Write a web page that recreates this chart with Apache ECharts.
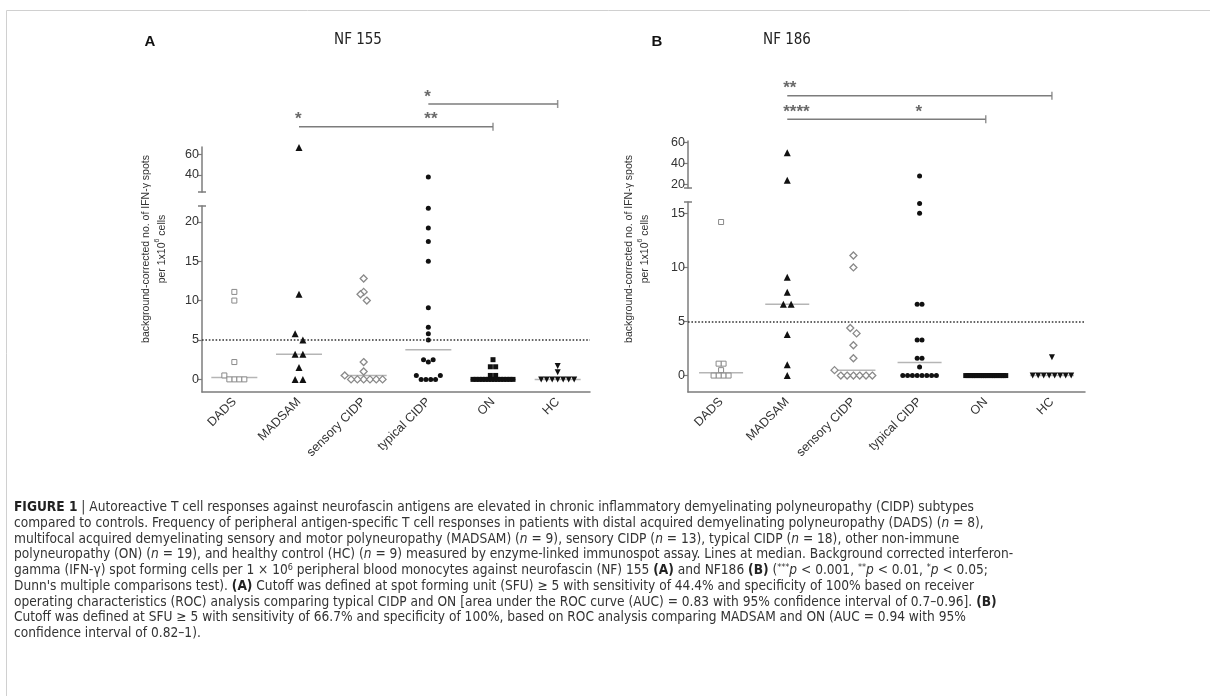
<!DOCTYPE html>
<html><head><meta charset="utf-8">
<script src="https://cdn.jsdelivr.net/npm/echarts@6/dist/echarts.min.js"></script>
<style>html,body{margin:0;padding:0;background:#fff}#c{width:1210px;height:696px}</style>
</head><body><div id="c"></div>
<script>
// ---------- data ----------
const categories = ['DADS', 'MADSAM', 'sensory CIDP', 'typical CIDP', 'ON', 'HC'];

// NF 155 (panel A)
const nf155DADS    = [11.1, 10.0, 2.2, 0.5, 0, 0, 0, 0];
const nf155MADSAM  = [67, 10.8, 5.8, 5.0, 3.2, 3.2, 1.5, 0, 0];
const nf155Sensory = [12.8, 11.1, 10.8, 10.0, 2.2, 1.0, 0.5, 0, 0, 0, 0, 0, 0];
const nf155Typical = [38, 21.7, 19.2, 17.5, 15.0, 9.1, 6.6, 5.8, 5.0, 2.5, 2.5, 2.2, 0.5, 0.5, 0, 0, 0, 0];
const nf155ON      = [2.5, 1.6, 1.6, 0.5, 0.5, 0, 0, 0, 0, 0, 0, 0, 0, 0, 0, 0, 0, 0, 0];
const nf155HC      = [1.7, 0.9, 0, 0, 0, 0, 0, 0, 0];

// NF 186 (panel B)
const nf186DADS    = [14.2, 1.1, 1.1, 0.5, 0, 0, 0, 0];
const nf186MADSAM  = [50, 24, 9.1, 7.7, 6.6, 6.6, 3.8, 1.0, 0];
const nf186Sensory = [11.1, 10.0, 4.4, 3.9, 2.8, 1.6, 0.5, 0, 0, 0, 0, 0, 0];
const nf186Typical = [28, 15.9, 15.0, 6.6, 6.6, 3.3, 3.3, 1.6, 1.6, 0.8, 0, 0, 0, 0, 0, 0, 0, 0];
const nf186ON      = [0, 0, 0, 0, 0, 0, 0, 0, 0, 0, 0, 0, 0, 0, 0, 0, 0, 0, 0];
const nf186HC      = [1.7, 0, 0, 0, 0, 0, 0, 0, 0];

const cutoff = 5;
const ticksALow = [0, 5, 10, 15, 20];
const ticksAUp  = [40, 60];
const ticksBLow = [0, 5, 10, 15];
const ticksBUp  = [20, 40, 60];

// significance brackets: [from, to, level]; stars: [category, level, text]
const bracketsA = [['typical CIDP', 'HC', 2], ['MADSAM', 'ON', 1]];
const starsA    = [['typical CIDP', 2, '*'], ['MADSAM', 1, '*'], ['typical CIDP', 1, '**']];
const bracketsB = [['MADSAM', 'HC', 2], ['MADSAM', 'ON', 1]];
const starsB    = [['MADSAM', 2, '**'], ['MADSAM', 1, '****'], ['typical CIDP', 1, '*']];

const panelData = [
  [nf155DADS, nf155MADSAM, nf155Sensory, nf155Typical, nf155ON, nf155HC],
  [nf186DADS, nf186MADSAM, nf186Sensory, nf186Typical, nf186ON, nf186HC]
];

// ---------- layout / style ----------
const AX = '#7c7c7c';
const panels = [
  { left: 202, width: 388,
    low: { top: 206, height: 186, min: -1.6, max: 22, ticks: ticksALow },
    up:  { top: 147, height: 45, min: 23.2, max: 67.5, ticks: ticksAUp },
    ann: { top: 81.3, height: 68.1 }, medW: 46, brackets: bracketsA, stars: starsA },
  { left: 688, width: 397,
    low: { top: 202, height: 190, min: -1.52, max: 16.05, ticks: ticksBLow },
    up:  { top: 141, height: 47, min: 16.6, max: 61, ticks: ticksBUp },
    ann: { top: 72.1, height: 70.8 }, medW: 44, brackets: bracketsB, stars: starsB }
];
const groupStyle = [
  { symbol: 'rect', size: 5, fill: '#fff', stroke: '#8a8a8a', bw: 1, sp: 5 },
  { symbol: 'triangle', size: 7, fill: '#111', sp: 7.7 },
  { symbol: 'diamond', size: 7, fill: '#fff', stroke: '#8a8a8a', bw: 1.3, sp: 6.3 },
  { symbol: 'circle', size: 5, fill: '#111', sp: 4.8 },
  { symbol: 'rect', size: 5, fill: '#111', sp: 5.3 },
  { symbol: 'triangle', size: 6, fill: '#111', rotate: 180, sp: 5.5 }
];
const MAXW = 40;
const FONT = "'Liberation Sans', Arial, sans-serif";
const NARROW = "'Liberation Sans Narrow', 'DejaVu Sans Condensed', 'Liberation Sans', sans-serif";

function median(a) {
  const s = a.slice().sort((x, y) => x - y), n = s.length;
  return n % 2 ? s[(n - 1) / 2] : (s[n / 2 - 1] + s[n / 2]) / 2;
}

const chart = echarts.init(document.getElementById('c'));

function buildOption(off, caps) {
  const grid = [], xAxis = [], yAxis = [], series = [];
  panels.forEach((P, p) => {
    const gi = p * 3;
    grid.push({ left: P.left, width: P.width, top: P.low.top, height: P.low.height });
    grid.push({ left: P.left, width: P.width, top: P.up.top, height: P.up.height });
    grid.push({ left: P.left, width: P.width, top: P.ann.top, height: P.ann.height });
    xAxis.push({ gridIndex: gi, type: 'category', data: categories,
      axisLine: { onZero: false, lineStyle: { color: AX, width: 1.5 } },
      axisTick: { alignWithLabel: true, length: 4, lineStyle: { color: AX, width: 1.2 } },
      axisLabel: { rotate: 45, interval: 0, fontSize: 12.5, color: '#333', margin: 8, fontFamily: FONT },
      splitLine: { show: false } });
    xAxis.push({ gridIndex: gi + 1, type: 'category', data: categories, show: false });
    xAxis.push({ gridIndex: gi + 2, type: 'category', data: categories, show: false });
    [P.low, P.up].forEach((S, si) => {
      yAxis.push({ gridIndex: gi + si, type: 'value', min: S.min, max: S.max,
        axisLine: { show: true, lineStyle: { color: AX, width: 1.5 } },
        axisTick: { show: true, length: 4, customValues: S.ticks, lineStyle: { color: AX, width: 1.2 } },
        axisLabel: { customValues: S.ticks, fontSize: 12.5, color: '#333', margin: 3, fontFamily: FONT },
        splitLine: { show: false } });
    });
    yAxis.push({ gridIndex: gi + 2, type: 'value', min: 0, max: 3, show: false });

    panelData[p].forEach((vals, g) => {
      const st = groupStyle[g];
      [0, 1].forEach(si => {
        const items = vals.map((v, i) => ({ v, i })).filter(o => si === 0 ? o.v <= P.low.max : o.v > P.low.max);
        if (!items.length) return;
        series.push({ type: 'scatter', xAxisIndex: gi + si, yAxisIndex: gi + si, silent: true, z: 3,
          symbol: st.symbol, symbolSize: st.size, symbolRotate: st.rotate || 0,
          itemStyle: { color: st.fill, borderColor: st.stroke || st.fill, borderWidth: st.bw || 0, opacity: 1 },
          data: items.map(o => ({ value: [categories[g], o.v], symbolOffset: [off ? off[p][g][o.i] : 0, 0] })) });
      });
    });
    // median lines + cutoff
    series.push({ type: 'scatter', xAxisIndex: gi, yAxisIndex: gi, silent: true, z: 2,
      symbol: 'rect', symbolSize: [P.medW, 1.5], itemStyle: { color: '#a3a3a3' },
      data: panelData[p].map((vals, g) => [categories[g], median(vals)]),
      markLine: { silent: true, symbol: ['none', 'none'], label: { show: false },
        lineStyle: { type: [1.6, 1.8], color: '#333', width: 1.6 }, data: [{ yAxis: cutoff }] } });
    // brackets
    P.brackets.forEach(b => {
      series.push({ type: 'line', xAxisIndex: gi + 2, yAxisIndex: gi + 2, silent: true, symbol: 'none',
        lineStyle: { color: AX, width: 1.5 }, data: [[b[0], b[2]], [b[1], b[2]]] });
      series.push({ type: 'scatter', xAxisIndex: gi + 2, yAxisIndex: gi + 2, silent: true,
        symbol: 'rect', symbolSize: [1.5, 8], itemStyle: { color: AX }, data: [[b[1], b[2]]] });
    });
    series.push({ type: 'scatter', xAxisIndex: gi + 2, yAxisIndex: gi + 2, silent: true,
      symbolSize: 1, itemStyle: { color: 'rgba(0,0,0,0)' },
      label: { show: true, position: 'top', distance: 0, align: 'left', offset: [-4, 2],
        formatter: d => d.data[2], fontSize: 17, fontWeight: 'bold', color: '#444', fontFamily: FONT },
      data: P.stars.map(s => [s[0], s[1], s[2]]) });
  });

  const graphic = [
    { type: 'rect', shape: { x: 6.5, y: 10.5, width: 1300, height: 800 }, style: { fill: 'none', stroke: '#d0d0d0', lineWidth: 1 } },
    { type: 'text', x: 150, y: 42, style: { text: 'A', font: "bold 15px " + FONT, fill: '#111', align: 'center', verticalAlign: 'middle' } },
    { type: 'text', x: 358, y: 40, style: { text: 'NF 155', font: "15px " + NARROW, fill: '#222', align: 'center', verticalAlign: 'middle' } },
    { type: 'text', x: 657, y: 42, style: { text: 'B', font: "bold 15px " + FONT, fill: '#111', align: 'center', verticalAlign: 'middle' } },
    { type: 'text', x: 787, y: 40, style: { text: 'NF 186', font: "15px " + NARROW, fill: '#222', align: 'center', verticalAlign: 'middle' } }
  ];
  const yl = [[154, 249], [637, 249]];
  yl.forEach(c => graphic.push({ type: 'text', x: c[0], y: c[1], rotation: Math.PI / 2,
    style: { text: 'background-corrected no. of IFN-\u03b3 spots\nper 1x10{s|6} cells', fontSize: 10.5, fontFamily: FONT,
      fill: '#333', align: 'center', verticalAlign: 'middle', lineHeight: 16,
      rich: { s: { fontSize: 7, fontFamily: FONT, fill: '#333', verticalAlign: 'top', lineHeight: 16 } } } }));
  if (caps) caps.forEach(c => graphic.push({ type: 'line', shape: { x1: c[0] - 4, y1: c[1], x2: c[0] + 4, y2: c[1] },
    style: { stroke: AX, lineWidth: 1.5 } }));

  const capLines = [
    '{b|FIGURE 1} | Autoreactive T cell responses against neurofascin antigens are elevated in chronic inflammatory demyelinating polyneuropathy (CIDP) subtypes',
    'compared to controls. Frequency of peripheral antigen-specific T cell responses in patients with distal acquired demyelinating polyneuropathy (DADS) ({i|n} = 8),',
    'multifocal acquired demyelinating sensory and motor polyneuropathy (MADSAM) ({i|n} = 9), sensory CIDP ({i|n} = 13), typical CIDP ({i|n} = 18), other non-immune',
    'polyneuropathy (ON) ({i|n} = 19), and healthy control (HC) ({i|n} = 9) measured by enzyme-linked immunospot assay. Lines at median. Background corrected interferon-',
    'gamma (IFN-\u03b3) spot forming cells per 1 \u00d7 10{s|6} peripheral blood monocytes against neurofascin (NF) 155 {b|(A)} and NF186 {b|(B)} ({s|***}{i|p} < 0.001, {s|**}{i|p} < 0.01, {s|*}{i|p} < 0.05;',
    "Dunn's multiple comparisons test). {b|(A)} Cutoff was defined at spot forming unit (SFU) \u2265 5 with sensitivity of 44.4% and specificity of 100% based on receiver",
    'operating characteristics (ROC) analysis comparing typical CIDP and ON [area under the ROC curve (AUC) = 0.83 with 95% confidence interval of 0.7\u20130.96]. {b|(B)}',
    'Cutoff was defined at SFU \u2265 5 with sensitivity of 66.7% and specificity of 100%, based on ROC analysis comparing MADSAM and ON (AUC = 0.94 with 95%',
    'confidence interval of 0.82\u20131).'
  ];
  const CFS = 13.6, CLH = 15.7;
  graphic.push({ type: 'text', x: 14, y: 500, style: { text: capLines.join('\n'), fontSize: CFS, fontFamily: NARROW,
    fill: '#333', lineHeight: CLH, align: 'left', verticalAlign: 'top',
    rich: { b: { fontSize: CFS, fontFamily: NARROW, fontWeight: 'bold', fill: '#222', lineHeight: CLH },
            i: { fontSize: CFS, fontFamily: NARROW, fontStyle: 'italic', fill: '#333', lineHeight: CLH },
            s: { fontSize: 9, fontFamily: NARROW, fill: '#333', lineHeight: CLH, verticalAlign: 'top' } } } });

  return { animation: false, backgroundColor: '#fff', grid, xAxis, yAxis, series, graphic };
}

function swarm(vals, idx, px, st, off) {
  const order = idx.slice().sort((a, b) => vals[a] - vals[b]);
  const maxPer = Math.floor(MAXW / st.sp) + 1;
  const rows = []; let row = null;
  order.forEach(i => {
    const v = vals[i], y = px(v);
    if (row && (v === row.v0 || (Math.abs(y - row.y0) < st.size && row.items.length < maxPer))) row.items.push(i);
    else { row = { v0: v, y0: y, items: [i] }; rows.push(row); }
  });
  rows.forEach(r => {
    const n = r.items.length; if (n < 2) return;
    const sp = Math.min(st.sp, MAXW / (n - 1)), c = (n - 1) / 2;
    const pos = [...Array(n).keys()].sort((a, b) => (Math.abs(a - c) - Math.abs(b - c)) || (b - a));
    r.items.forEach((i, k) => { off[i] = (pos[k] - c) * sp; });
  });
}

chart.setOption(buildOption(null, null));
const offsets = panels.map((P, p) => panelData[p].map((vals, g) => {
  const off = new Array(vals.length).fill(0);
  [0, 1].forEach(si => {
    const idx = vals.map((v, i) => i).filter(i => si === 0 ? vals[i] <= P.low.max : vals[i] > P.low.max);
    swarm(vals, idx, v => chart.convertToPixel({ yAxisIndex: p * 3 + si }, v), groupStyle[g], off);
  });
  return off;
}));
const caps = [];
panels.forEach((P, p) => {
  caps.push([P.left, chart.convertToPixel({ yAxisIndex: p * 3 }, P.low.max)]);
  caps.push([P.left, chart.convertToPixel({ yAxisIndex: p * 3 + 1 }, P.up.min)]);
});
chart.setOption(buildOption(offsets, caps), { notMerge: true });
</script>
</body></html>
